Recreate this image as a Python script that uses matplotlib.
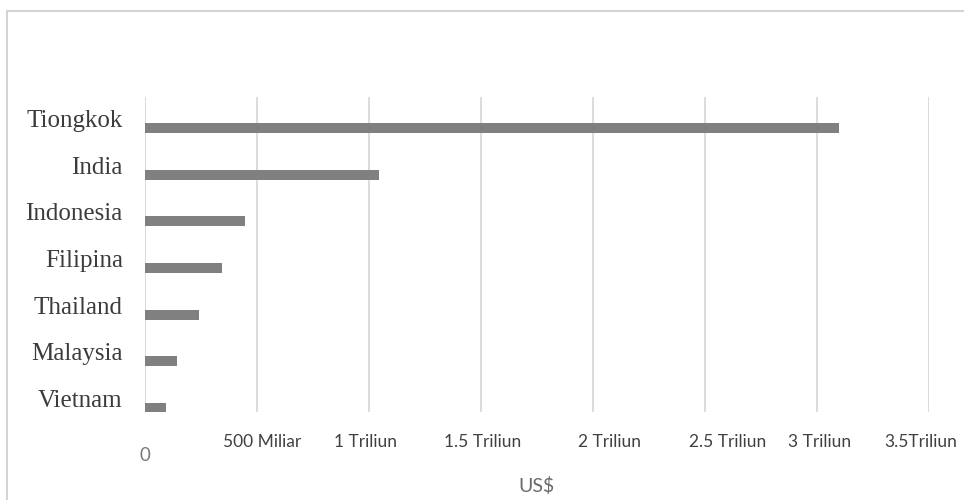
import matplotlib
matplotlib.use("Agg")
import matplotlib.pyplot as plt
from matplotlib.patches import Rectangle
from matplotlib.transforms import ScaledTranslation

# Data (values in trillion US$)
countries = ["Tiongkok", "India", "Indonesia", "Filipina", "Thailand", "Malaysia", "Vietnam"]
values = [3.10, 1.045, 0.446, 0.345, 0.24, 0.142, 0.094]
tick_values = [0, 0.5, 1.0, 1.5, 2.0, 2.5, 3.0, 3.5]
tick_labels = ["0", "500 Miliar", "1 Triliun", "1.5 Triliun", "2 Triliun",
               "2.5 Triliun", "3 Triliun", "3.5Triliun"]
axis_label = "US$"

W, H = 964, 500
fig = plt.figure(figsize=(W / 100, H / 100), dpi=100)
fig.patch.set_facecolor("white")

# outer chart frame
fig.patches.append(Rectangle((7 / W, -0.05), 1.2, 1 - 11 / H + 0.05,
                             transform=fig.transFigure, fill=False,
                             edgecolor="#d4d4d4", linewidth=1.5))

left, right = 145 / W, 929 / W
bottom, top = 1 - 412 / H, 1 - 97 / H
ax = fig.add_axes([left, bottom, right - left, top - bottom])

n = len(countries)
ypos = [n - 1 - i for i in range(n)]
ax.barh(ypos, values, height=0.21, color="#808080", zorder=3)

ax.set_xlim(0, 3.5)
ax.set_ylim(-0.086, n - 1 + 0.664)

# y labels (serif, slightly above bars)
ax.set_yticks([y + 0.2 for y in ypos])
ax.set_yticklabels(countries, family="Liberation Serif", fontsize=18, color="#3c3c3c")
ax.tick_params(axis="y", length=0, pad=16)

# x ticks
ax.set_xticks(tick_values)
ax.set_xticklabels(tick_labels, family="Lato", fontsize=12.5, color="#404040")
ax.tick_params(axis="x", length=0, pad=16)
xoffs = [0, 5, -3, 2, 16, 23, 3, -8]
yoffs = [-13, 0, 0, 0, 0, 0, 0, 0]
for lab, dx, dy in zip(ax.get_xticklabels(), xoffs, yoffs):
    lab.set_transform(lab.get_transform() + ScaledTranslation(dx / 100, dy / 100, fig.dpi_scale_trans))
ax.get_xticklabels()[0].set_color("#7a7a7a")
ax.get_xticklabels()[0].set_fontsize(13.5)

ax.xaxis.grid(True, color="#d9d9d9", linewidth=1.3, zorder=0)
ax.yaxis.grid(False)
for s in ax.spines.values():
    s.set_visible(False)

fig.text(536 / W, 1 - 486 / H, axis_label, ha="center", va="center",
         family="Lato", fontsize=14, color="#6a6a6a")

fig.savefig("out.png", dpi=100)
